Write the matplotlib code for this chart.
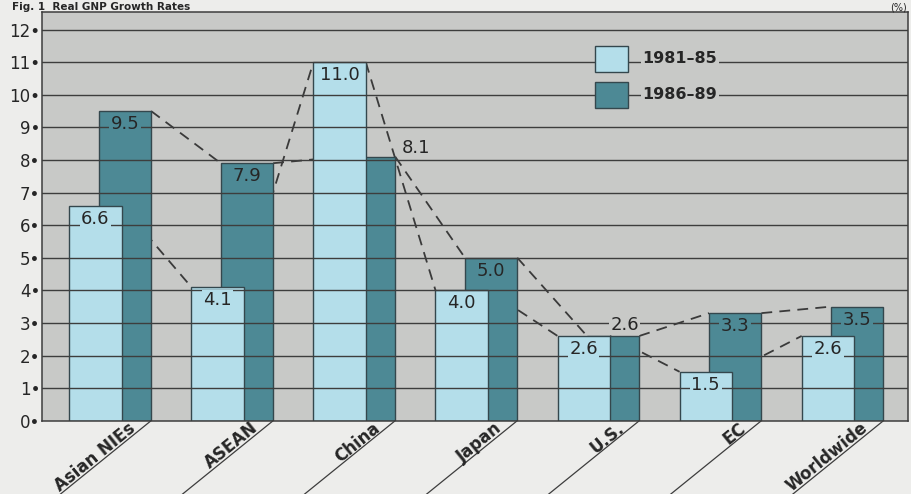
import matplotlib.pyplot as plt
import matplotlib.transforms as mtransforms
from matplotlib.patches import Rectangle
import numpy as np

# Real GNP growth rates by region (%)
regions = ["Asian NIEs", "ASEAN", "China", "Japan", "U.S.", "EC", "Worldwide"]
growth_8185 = [6.6, 4.1, 11.0, 4.0, 2.6, 1.5, 2.6]
growth_8689 = [9.5, 7.9, 8.1, 5.0, 2.6, 3.3, 3.5]
period_labels = ["1981\u201385", "1986\u201389"]
y_ticks = np.arange(0, 13)

# styling
fig_bg = "#ededeb"
plot_bg = "#c8c9c7"
light_col = "#b4deea"
dark_col = "#4d8995"
edge_col = "#34474d"
grid_col = "#3d3d3d"
text_col = "#262626"

bar_w = 0.429      # width of every bar
dark_shift = 0.241  # dark bar sits behind the light one, shifted right

fig = plt.figure(figsize=(9.11, 4.94), dpi=100, facecolor=fig_bg)
ax = fig.add_axes([0.0458, 0.1484, 0.9509, 0.8267])
ax.set_facecolor(plot_bg)

x = np.arange(len(regions))

# bars: dark (later period) behind, light in front
ax.bar(x + dark_shift, growth_8689, width=bar_w, align="edge",
       color=dark_col, edgecolor=edge_col, linewidth=1.0, zorder=2)
ax.bar(x, growth_8185, width=bar_w, align="edge",
       color=light_col, edgecolor=edge_col, linewidth=1.0, zorder=2.05)

# dashed connectors: top-right of one bar to top-left of the next
dash = (0, (6, 4))
for i in range(len(regions) - 1):
    ax.plot([x[i] + bar_w, x[i + 1]], [growth_8185[i], growth_8185[i + 1]],
            ls=dash, color="#3a3a3a", lw=1.3, zorder=1.5)
    ax.plot([x[i] + dark_shift + bar_w, x[i + 1] + dark_shift],
            [growth_8689[i], growth_8689[i + 1]],
            ls=dash, color="#3a3a3a", lw=1.3, zorder=1.5)

# horizontal rules drawn over the bars
for yv in y_ticks[1:]:
    ax.axhline(yv, color=grid_col, lw=1.0, zorder=2.5)

ax.set_xlim(-0.226, 6.871)
ax.set_ylim(0, 12.53)
ax.set_xticks([])
ax.set_yticks(y_ticks)
ax.set_yticklabels([f"{v}\u2022" for v in y_ticks], fontsize=12, color=text_col)
ax.tick_params(axis="y", length=0, pad=1)
for s in ax.spines.values():
    s.set_color(grid_col)
    s.set_linewidth(1.1)


def px(dx, dy):
    return mtransforms.ScaledTranslation(dx / 100, dy / 100, fig.dpi_scale_trans)


# value labels
box = dict(boxstyle="square,pad=0.08", ec="none")
for i, v in enumerate(growth_8185):
    ax.text(x[i] + bar_w / 2, v, f"{v:.1f}", ha="center", va="center",
            fontsize=13, color=text_col, zorder=3,
            bbox=dict(box, fc=light_col),
            transform=ax.transData + px(0, -13))
for i, v in enumerate(growth_8689):
    name = regions[i]
    if name == "China":
        ax.text(x[i] + dark_shift + bar_w, v, f"{v:.1f}", ha="left", va="center",
                fontsize=13, color=text_col, zorder=3,
                bbox=dict(box, fc=plot_bg),
                transform=ax.transData + px(7, 9))
    elif name == "U.S.":
        ax.text(x[i] + bar_w + dark_shift / 2, v, f"{v:.1f}", ha="center",
                va="center", fontsize=13, color=text_col, zorder=3,
                bbox=dict(box, fc=plot_bg),
                transform=ax.transData + px(0, 11))
    else:
        ax.text(x[i] + dark_shift + bar_w / 2, v, f"{v:.1f}", ha="center",
                va="center", fontsize=13, color=text_col, zorder=3,
                bbox=dict(box, fc=dark_col),
                transform=ax.transData + px(0, -13))

# slanted leader lines and region names under the axis
ang = np.deg2rad(39)
for i, name in enumerate(regions):
    x0 = x[i] + dark_shift + bar_w
    ln_len = 120
    tr = fig.dpi_scale_trans + mtransforms.ScaledTranslation(x0, 0, ax.transData)
    ax.plot([0, -ln_len * np.cos(ang) / 100], [0, -ln_len * np.sin(ang) / 100],
            color=grid_col, lw=0.9, transform=tr, clip_on=False)
    d = 17
    ax.text(x0, 0, name, rotation=39, rotation_mode="anchor",
            ha="right", va="baseline", fontsize=12, fontweight="bold",
            color=text_col, clip_on=False,
            transform=ax.transData + px(-d * np.cos(ang) - 1.3,
                                        -d * np.sin(ang) + 1.6))

# legend keys
key_cols = [light_col, dark_col]
key_y = [0.8857, 0.7976]
for col, yc, lab in zip(key_cols, key_y, period_labels):
    ax.add_patch(Rectangle((0.6387, yc - 0.031), 0.0381, 0.062,
                           transform=ax.transAxes, facecolor=col,
                           edgecolor=edge_col, lw=1.0, zorder=3))
    ax.text(0.6932, yc, lab, transform=ax.transAxes, ha="left", va="center",
            fontsize=11.5, fontweight="bold", color=text_col, zorder=3,
            bbox=dict(boxstyle="square,pad=0.1", fc=plot_bg, ec="none"))

# title strip in the narrow band above the frame
fig.text(0.013, 1 - 10 / 494, "Fig. 1  Real GNP Growth Rates", ha="left",
         va="baseline", fontsize=7.5, fontweight="bold", color=text_col)
fig.text(0.996, 1 - 10 / 494, "(%)", ha="right", va="baseline",
         fontsize=7, color=text_col)

fig.savefig("out.png", dpi=100, facecolor=fig_bg)
